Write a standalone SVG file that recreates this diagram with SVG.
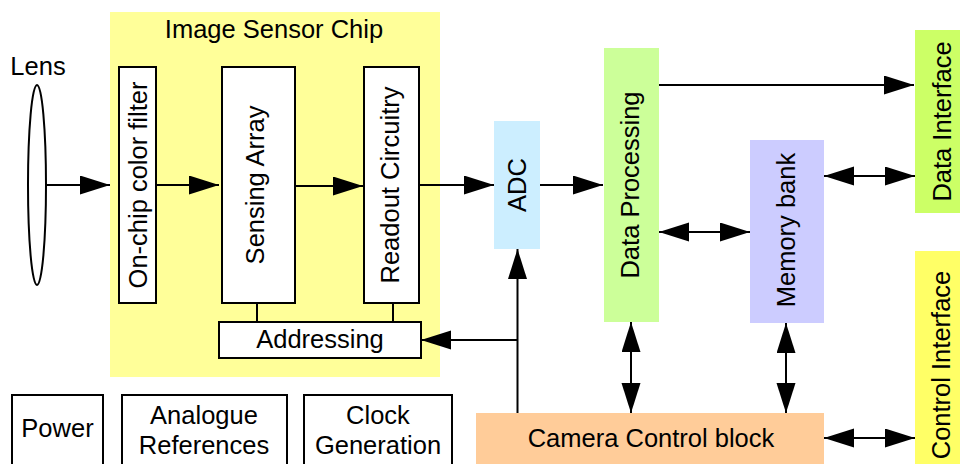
<svg xmlns="http://www.w3.org/2000/svg" width="960" height="464" viewBox="0 0 960 464">
  <style>
    text { font-family: "Liberation Sans", Arial, sans-serif; font-size: 25.5px; fill: #000; text-anchor: middle; }
    .box { fill: #fff; stroke: #000; stroke-width: 2; }
    .wire { fill: none; stroke: #000; stroke-width: 2; }
    .arrow { fill: none; stroke: #000; stroke-width: 2; marker-end: url(#head); }
    .both { fill: none; stroke: #000; stroke-width: 2; marker-start: url(#head); marker-end: url(#head); }
  </style>
  <defs>
    <marker id="head" markerUnits="userSpaceOnUse" markerWidth="31" markerHeight="20" refX="30" refY="9.5" orient="auto-start-reverse" viewBox="0 0 31 20">
      <path d="M0,0 L30,9.5 L0,19 Z" fill="#000"/>
    </marker>
  </defs>

  <rect width="960" height="464" fill="#fff"/>

  <!-- image sensor chip enclosure -->
  <g id="chip">
    <rect x="110" y="12" width="330" height="365" fill="#ffff99"/>
    <text x="274" y="38">Image Sensor Chip</text>
  </g>

  <g id="lens">
    <ellipse cx="37" cy="185" rx="9" ry="100" fill="#fff" stroke="#000" stroke-width="2"/>
    <text x="38" y="75">Lens</text>
  </g>

  <g id="filter">
    <rect class="box" x="119" y="67" width="37" height="236"/>
    <text transform="translate(137.5,185) rotate(-90)" y="9">On-chip color filter</text>
  </g>

  <g id="sensing">
    <rect class="box" x="222" y="67" width="73" height="236"/>
    <text transform="translate(258.5,185) rotate(-90)" y="5">Sensing Array</text>
  </g>

  <g id="readout">
    <rect class="box" x="364" y="67" width="55" height="236"/>
    <text transform="translate(391.5,185) rotate(-90)" y="7">Readout Circuitry</text>
  </g>

  <g id="addressing">
    <rect class="box" x="219" y="322" width="202" height="36"/>
    <text x="320" y="348">Addressing</text>
  </g>

  <g id="adc">
    <rect x="494" y="121" width="46" height="128" fill="#cceeff"/>
    <text transform="translate(517,185) rotate(-90)" y="9">ADC</text>
  </g>

  <g id="processing">
    <rect x="604" y="48" width="55" height="274" fill="#ccff99"/>
    <text transform="translate(631.5,185) rotate(-90)" y="7.5">Data Processing</text>
  </g>

  <g id="memory">
    <rect x="750" y="140" width="74" height="183" fill="#ccccff"/>
    <text transform="translate(787,230) rotate(-90)" y="8">Memory bank</text>
  </g>

  <g id="data-interface">
    <rect x="915" y="30" width="55" height="183" fill="#ccff66"/>
    <text transform="translate(942,121.5) rotate(-90)" y="9">Data Interface</text>
  </g>

  <g id="control-interface">
    <rect x="915" y="251" width="55" height="228" fill="#ffff66"/>
    <text transform="translate(941,365) rotate(-90)" y="9">Control Interface</text>
  </g>

  <g id="camera-control">
    <rect x="476" y="413" width="348" height="60" fill="#ffcc99"/>
    <text x="651" y="447">Camera Control block</text>
  </g>

  <g id="power">
    <rect class="box" x="12" y="395" width="91" height="80"/>
    <text x="57.5" y="437">Power</text>
  </g>

  <g id="analogue">
    <rect class="box" x="122" y="395" width="165" height="80"/>
    <text x="204" y="424">Analogue</text>
    <text x="204" y="454">References</text>
  </g>

  <g id="clock">
    <rect class="box" x="304" y="395" width="148" height="80"/>
    <text x="378" y="424">Clock</text>
    <text x="378" y="454">Generation</text>
  </g>

  <g id="connectors">
    <path class="arrow" d="M46,185 H110"/>
    <path class="arrow" d="M156,185 H219"/>
    <path class="arrow" d="M295,186 H363"/>
    <path class="arrow" d="M419,185 H494"/>
    <path class="arrow" d="M540,185 H603"/>
    <path class="arrow" d="M659,85 H914"/>
    <path class="both" d="M659,232 H750"/>
    <path class="both" d="M824,176 H915"/>
    <path class="both" d="M631,322 V413"/>
    <path class="both" d="M786,323 V413"/>
    <path class="both" d="M824,438 H915"/>
    <path class="wire" d="M257,303 V322"/>
    <path class="wire" d="M393,303 V322"/>
    <path class="arrow" d="M517.5,413 V249"/>
    <path class="arrow" d="M517.5,340 H421"/>
  </g>
</svg>
